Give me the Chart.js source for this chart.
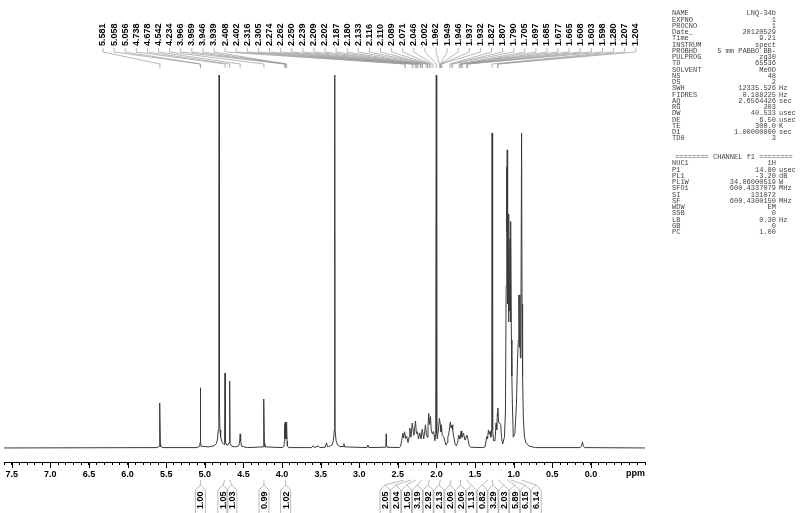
<!DOCTYPE html>
<html lang="en">
<head>
  <meta charset="UTF-8">
  <title>1H NMR - LNQ-34b</title>
  <style>
    body {
      margin: 0;
      background: #fff;
    }

    #wrap {
      width: 800px;
      height: 513px;
      position: relative;
    }
  </style>
  <script src="https://cdn.jsdelivr.net/npm/chart.js"></script>
</head>
<body>
  <div id="wrap"><canvas id="nmr" width="800" height="513"></canvas></div>

  <script>
    // spectrum trace: ppm and relative intensity (solvent lines run off the top)
    const specPpm = [
      7.60, 5.620, 5.590, 5.587, 5.581, 5.575, 5.572, 5.540,
      5.100, 5.066, 5.062, 5.058, 5.056, 5.052, 5.048,
      4.950, 4.880, 4.850, 4.835, 4.825, 4.818, 4.814, 4.810, 4.803, 4.795, 4.780, 4.762, 4.748,
      4.743, 4.738, 4.733, 4.715, 4.700, 4.684, 4.678, 4.673, 4.650, 4.600,
      4.560, 4.548, 4.542, 4.536, 4.524, 4.450,
      4.245, 4.240, 4.234, 4.228, 4.222, 3.990,
      3.975, 3.970, 3.966, 3.963, 3.959, 3.953, 3.946, 3.943, 3.939, 3.935, 3.930, 3.910,
      3.620, 3.595, 3.580, 3.530, 3.510, 3.440, 3.425, 3.410, 3.400, 3.380,
      3.350, 3.335, 3.323, 3.318, 3.313, 3.300, 3.280, 3.250,
      3.205, 3.198, 3.190, 2.900, 2.888, 2.875,
      2.660, 2.655, 2.651, 2.647, 2.640, 2.480, 2.465,
      2.450, 2.435, 2.425, 2.413, 2.400, 2.387, 2.368, 2.355, 2.345, 2.330,
      2.314, 2.293, 2.282, 2.272, 2.260, 2.246, 2.233, 2.216, 2.200, 2.185,
      2.165, 2.150, 2.143, 2.132, 2.121, 2.110, 2.100, 2.089, 2.078, 2.068,
      2.057, 2.046, 2.036, 2.021, 2.010, 2.002, 1.997, 1.990, 1.975, 1.962,
      1.949, 1.942, 1.937, 1.925, 1.907, 1.890, 1.876, 1.860, 1.853, 1.840,
      1.827, 1.821, 1.810, 1.799, 1.790, 1.776, 1.760, 1.744, 1.725, 1.714,
      1.705, 1.696, 1.685, 1.680, 1.672, 1.664, 1.650, 1.632, 1.622, 1.609,
      1.603, 1.598, 1.589, 1.575, 1.560, 1.400,
      1.371, 1.349, 1.338, 1.328, 1.316, 1.306, 1.295, 1.288, 1.284, 1.280,
      1.276, 1.270, 1.261, 1.242, 1.229, 1.220, 1.212, 1.207, 1.2055, 1.204,
      1.195, 1.184, 1.168, 1.158, 1.143, 1.120, 1.107, 1.098, 1.092, 1.088,
      1.084, 1.079, 1.073, 1.067, 1.062, 1.056, 1.048, 1.043, 1.036, 1.030,
      1.024, 1.017, 1.006, 0.985, 0.965, 0.950, 0.940, 0.933, 0.926, 0.920,
      0.914, 0.906, 0.898, 0.892, 0.885, 0.875, 0.860, 0.843, 0.800, 0.720,
      0.140, 0.120, 0.110, 0.100, 0.080, -0.70
    ];
    const specInt = [
      0, 0.1, 0.4, 1.2, 12.5, 1.2, 0.4, 0.1,
      0.1, 0.5, 1.5, 16.7, 16.3, 1.5, 0.5,
      0.3, 0.6, 1.2, 2.5, 5, 10, 140, 10, 5, 3, 1.8, 1.2, 0.9,
      1.6, 20.8, 1.5, 0.8, 0.8, 1.5, 18.6, 1.2, 0.5, 0.3,
      0.6, 2, 3.9, 2, 0.5, 0.1,
      0.3, 1.2, 13.6, 1.2, 0.3, 0.1,
      0.5, 1.8, 6.5, 2.5, 7.2, 2.5, 7.2, 2.5, 6.5, 1.8, 0.5, 0.1,
      0.1, 0.6, 0.1, 0.6, 0.1, 0.2, 1.4, 0.3, 0.4, 0.5,
      0.9, 2, 5, 140, 5, 2, 0.8, 0.4,
      0.4, 1.2, 0.3, 0.1, 0.8, 0.1,
      0.2, 1.0, 3.9, 1.0, 0.2, 0.1, 0.5,
      2.0, 4.1, 2.8, 4.5, 2.6, 3.3, 1.5, 3.0, 5.5, 3.0,
      6.9, 3.5, 5.5, 7.5, 4.0, 4.5, 2.5, 4.2, 2.5, 5.2,
      2.5, 5.0, 6.4, 4.0, 3.0, 6.0, 9.6, 6.5, 8.7, 5.0,
      4.0, 4.5, 4.5, 2.0, 4, 140, 4, 2.5, 5.0, 8.2,
      6.4, 4.5, 6.4, 3.5, 3.1, 1.8, 0.8, 1.5, 3.0, 4.0,
      6.0, 7.2, 5.5, 6.4, 5.0, 3.0, 1.2, 0.6, 1.5, 3.6,
      3.2, 2.5, 4.2, 4.7, 3.0, 3.0, 4.1, 2.2, 2.5, 3.6,
      3.3, 3.0, 2.0, 0.6, 0.2, 0.1,
      0.3, 3.2, 2.5, 5.0, 3.8, 4.6, 3, 5, 15, 87.5,
      15, 5, 2, 2, 6.9, 5, 9.6, 11.1, 9, 11.1,
      7, 7, 6.5, 3, 1.1, 3, 10, 45, 78, 60,
      82.8, 40, 55, 35, 65, 38, 58, 35, 62.9, 30,
      20, 12, 3, 4, 12, 25, 30, 42.5, 28, 42.5,
      25, 40, 87.5, 40, 20, 8, 3, 1.5, 0.5, 0.1,
      0.1, 0.6, 1.7, 0.6, 0.1, 0
    ];

    const peakLabels = [
      '5.581', '5.058', '5.056', '4.738', '4.678', '4.542', '4.234', '3.966', '3.959', '3.946',
      '3.939', '2.408', '2.402', '2.316', '2.305', '2.274', '2.262', '2.250', '2.239', '2.209',
      '2.202', '2.187', '2.180', '2.133', '2.116', '2.110', '2.089', '2.071', '2.046', '2.002',
      '1.962', '1.949', '1.946', '1.937', '1.932', '1.827', '1.807', '1.790', '1.705', '1.697',
      '1.685', '1.677', '1.665', '1.608', '1.603', '1.598', '1.280', '1.207', '1.204'
    ];

    const integralPpm = [5.057, 4.738, 4.678, 4.234, 3.953,
      2.42, 2.33, 2.27, 2.19, 2.09, 1.95, 1.81, 1.69, 1.61,
      1.33, 1.28, 1.20, 1.084, 1.036, 0.90];
    const integralValues = ['1.00', '1.05', '1.03', '0.99', '1.02',
      '2.05', '2.04', '1.05', '3.19', '2.92', '2.13', '2.06', '2.06', '1.13',
      '0.82', '3.29', '2.03', '5.89', '6.15', '6.14'];

    const xTicks = ['7.5', '7.0', '6.5', '6.0', '5.5', '5.0', '4.5', '4.0', '3.5', '3.0',
      '2.5', '2.0', '1.5', '1.0', '0.5', '0.0'];

    // acquisition / processing parameters
    const acqNames = ['NAME', 'EXPNO', 'PROCNO', 'Date_', 'Time', 'INSTRUM', 'PROBHD', 'PULPROG', 'TD',
      'SOLVENT', 'NS', 'DS', 'SWH', 'FIDRES', 'AQ', 'RG', 'DW', 'DE', 'TE', 'D1', 'TD0'];
    const acqValues = ['LNQ-34b', '1', '1', '20120529', '9.21', 'spect', '5 mm PABBO BB-', 'zg30', '65536',
      'MeOD', '48', '2', '12335.526', '0.188225', '2.6564426', '203', '40.533', '6.50', '300.0',
      '1.00000000', '3'];
    const acqUnits = ['', '', '', '', '', '', '', '', '', '', '', '', 'Hz', 'Hz', 'sec', '', 'usec', 'usec',
      'K', 'sec', ''];
    const chNames = ['NUC1', 'P1', 'PL1', 'PL1W', 'SFO1', 'SI', 'SF', 'WDW', 'SSB', 'LB', 'GB', 'PC'];
    const chValues = ['1H', '14.80', '-3.20', '34.06000519', '600.4337079', '131072', '600.4300150',
      'EM', '0', '0.30', '0', '1.00'];
    const chUnits = ['', 'usec', 'dB', 'W', 'MHz', '', 'MHz', '', '', 'Hz', '', ''];

    const specData = specPpm.map((p, i) => ({ x: p, y: specInt[i] }));

    function line(ctx, pts) {
      ctx.beginPath();
      ctx.moveTo(pts[0][0], pts[0][1]);
      for (let k = 1; k < pts.length; k++) ctx.lineTo(pts[k][0], pts[k][1]);
      ctx.stroke();
    }

    // peak labels, integrals, major ticks and the parameter block
    const nmrDecor = {
      id: 'nmrDecor',
      afterDraw(chart) {
        const ctx = chart.ctx;
        const xs = chart.scales.x;
        const axisY = chart.chartArea.bottom;
        ctx.save();

        // longer ticks at every 0.5 ppm
        ctx.strokeStyle = '#000';
        ctx.lineWidth = 1;
        xTicks.forEach(t => {
          const px = Math.round(xs.getPixelForValue(parseFloat(t))) + 0.5;
          line(ctx, [[px, axisY], [px, axisY + 6]]);
        });
        ctx.font = 'bold 9px "Liberation Sans", Arial, sans-serif';
        ctx.fillStyle = '#000';
        ctx.textAlign = 'left';
        ctx.textBaseline = 'middle';
        ctx.fillText('ppm', 626, 474);

        // peak picking labels
        ctx.strokeStyle = '#9a9a9a';
        ctx.lineWidth = 0.7;
        peakLabels.forEach((lab, i) => {
          const lx = 103 + i * 11.1;
          const px = xs.getPixelForValue(parseFloat(lab));
          line(ctx, [[lx, 48], [lx, 52], [px, 64], [px, 68]]);
          ctx.save();
          ctx.translate(lx, 46);
          ctx.rotate(-Math.PI / 2);
          ctx.fillText(lab, 0, 0);
          ctx.restore();
        });

        // integrals: first group sits under its peaks (nudged apart), second group is fanned out
        const lxs = integralPpm.map((p, i) => i < 5 ? xs.getPixelForValue(p) : 385 + (i - 5) * 10.8);
        for (let i = 1; i < 5; i++) {
          const gap = lxs[i] - lxs[i - 1];
          if (gap < 9) {
            lxs[i - 1] -= (9 - gap) / 2;
            lxs[i] += (9 - gap) / 2;
          }
        }
        integralValues.forEach((val, i) => {
          const cx = xs.getPixelForValue(integralPpm[i]);
          const lx = lxs[i];
          line(ctx, [[cx, 480], [lx, 485]]);
          line(ctx, [[lx - 5, 514], [lx - 5, 490], [lx, 485], [lx + 5, 490], [lx + 5, 514]]);
          ctx.save();
          ctx.translate(lx, 509);
          ctx.rotate(-Math.PI / 2);
          ctx.fillText(val, 0, 0.5);
          ctx.restore();
        });

        // parameter table
        ctx.font = '7px "Liberation Mono", "DejaVu Sans Mono", monospace';
        ctx.fillStyle = '#444';
        const row = (name, value, unit, y) => {
          ctx.textAlign = 'left';
          ctx.fillText(name, 672, y);
          ctx.textAlign = 'right';
          ctx.fillText(value, 776, y);
          ctx.textAlign = 'left';
          if (unit) ctx.fillText(unit, 779, y);
        };
        acqNames.forEach((n, i) => row(n, acqValues[i], acqUnits[i], 13.5 + i * 6.25));
        ctx.textAlign = 'center';
        ctx.fillText('======== CHANNEL f1 ========', 734, 157);
        chNames.forEach((n, i) => row(n, chValues[i], chUnits[i], 163.5 + i * 6.25));

        ctx.restore();
      }
    };

    new Chart(document.getElementById('nmr'), {
      type: 'line',
      data: {
        datasets: [{
          data: specData,
          borderColor: '#3a3a3a',
          borderWidth: 1,
          pointRadius: 0,
          tension: 0,
          fill: false
        }]
      },
      options: {
        responsive: false,
        animation: false,
        layout: { padding: { top: 75, right: 155, bottom: 0, left: 0 } },
        plugins: {
          legend: { display: false },
          tooltip: { enabled: false }
        },
        scales: {
          x: {
            type: 'linear',
            reverse: true,
            min: -0.7,
            max: 7.6,
            afterFit: (scale) => { scale.height = 51; },
            border: { display: true, color: '#000', width: 1 },
            grid: { drawOnChartArea: false, drawTicks: true, tickLength: 3, color: '#000' },
            ticks: {
              stepSize: 0.1,
              autoSkip: false,
              maxRotation: 0,
              padding: 4,
              color: '#000',
              font: { family: '"Liberation Sans", Arial, sans-serif', size: 9, weight: 'bold' },
              callback: (v) => (v > -1e-6 && Math.abs(v * 2 - Math.round(v * 2)) < 1e-6) ? Math.abs(v).toFixed(1) : ''
            }
          },
          y: {
            display: false,
            min: -3.9,
            max: 103.6
          }
        }
      },
      plugins: [nmrDecor]
    });
  </script>
</body>
</html>
